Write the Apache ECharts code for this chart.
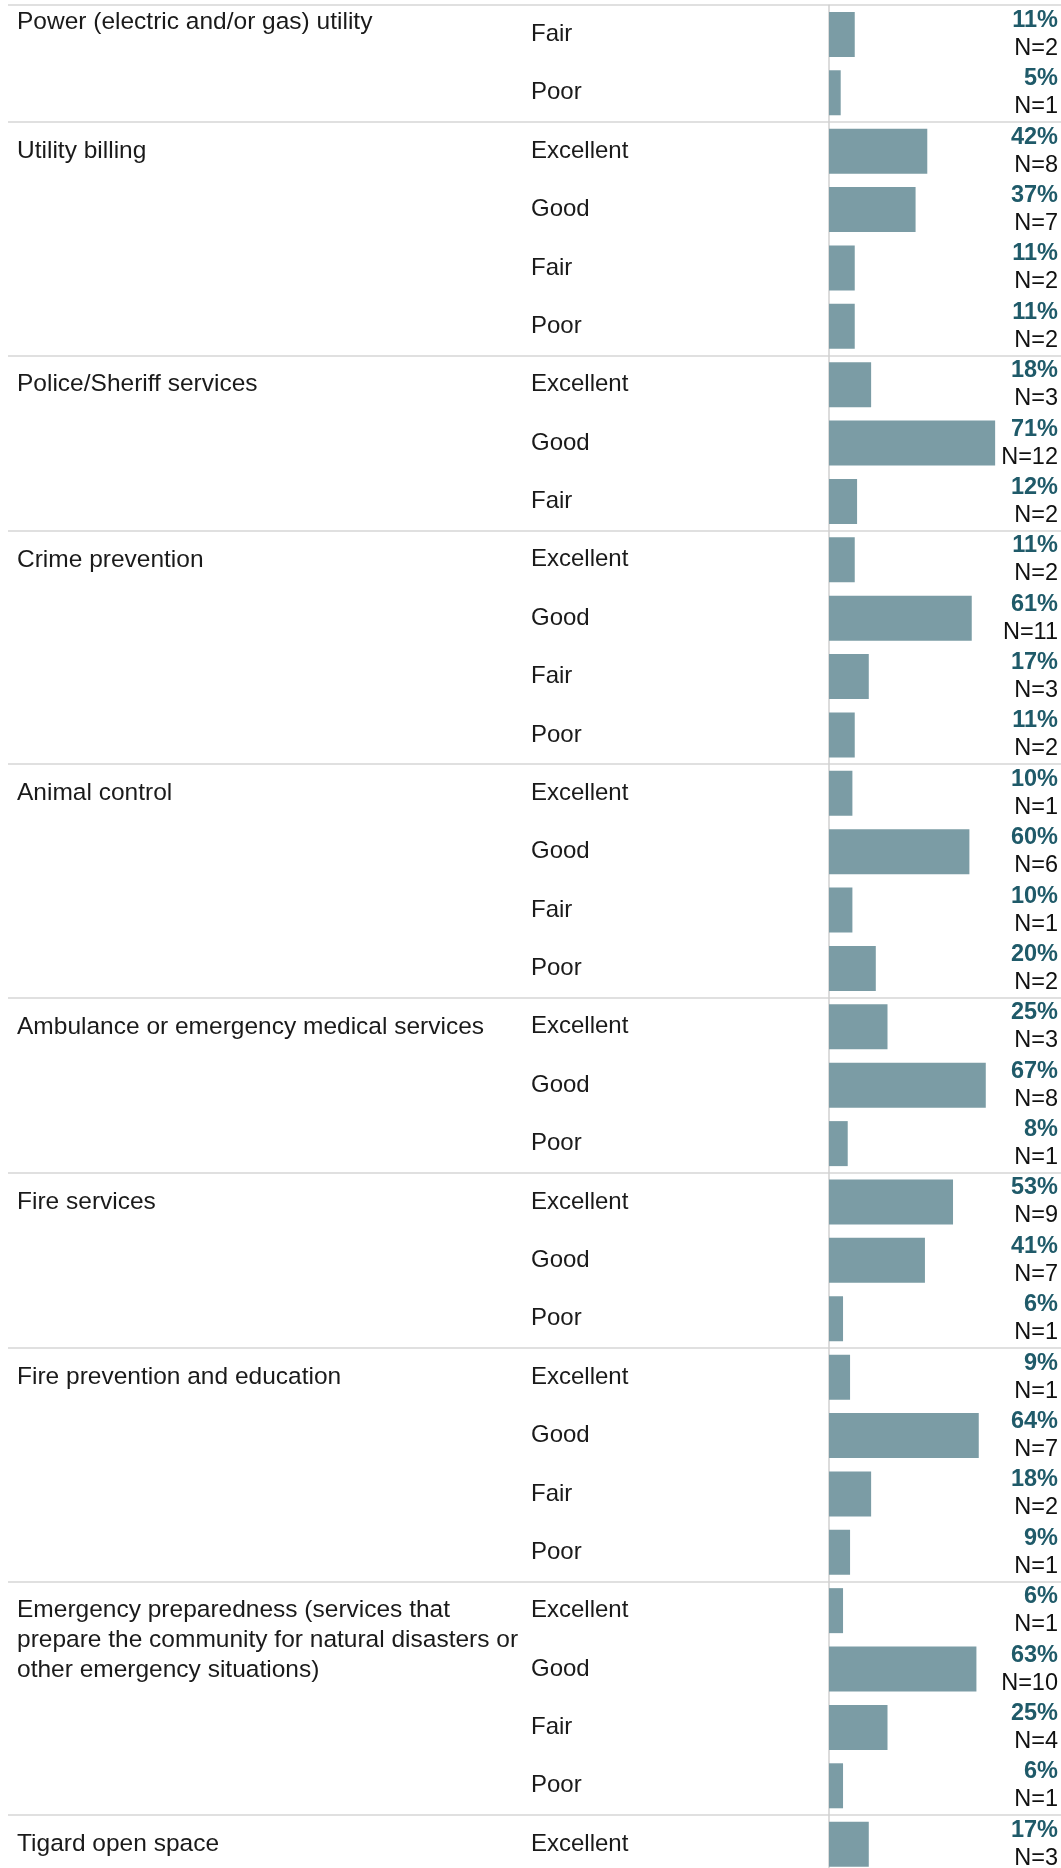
<!DOCTYPE html>
<html>
<head>
<meta charset="utf-8">
<title>Service ratings</title>
<script src="https://cdn.jsdelivr.net/npm/echarts@6/dist/echarts.min.js"></script>
<style>
    html, body { margin: 0; padding: 0; background: #fff; }
    #rating-chart { width: 1061px; height: 1868px; }
</style>
</head>
<body>
<div id="rating-chart"></div>
<script>
// one entry per service, and how many rating rows it has on screen
var services = [
    'Power (electric and/or gas) utility',
    'Utility billing',
    'Police/Sheriff services',
    'Crime prevention',
    'Animal control',
    'Ambulance or emergency medical services',
    'Fire services',
    'Fire prevention and education',
    'Emergency preparedness (services that\nprepare the community for natural disasters or\nother emergency situations)',
    'Tigard open space'
];
var serviceRows = [2, 4, 3, 4, 4, 3, 3, 4, 4, 1];

// one entry per row, top to bottom
var ratings = [
    'Fair', 'Poor',
    'Excellent', 'Good', 'Fair', 'Poor',
    'Excellent', 'Good', 'Fair',
    'Excellent', 'Good', 'Fair', 'Poor',
    'Excellent', 'Good', 'Fair', 'Poor',
    'Excellent', 'Good', 'Poor',
    'Excellent', 'Good', 'Poor',
    'Excellent', 'Good', 'Fair', 'Poor',
    'Excellent', 'Good', 'Fair', 'Poor',
    'Excellent'
];
var percents = [
    11, 5,
    42, 37, 11, 11,
    18, 71, 12,
    11, 61, 17, 11,
    10, 60, 10, 20,
    25, 67, 8,
    53, 41, 6,
    9, 64, 18, 9,
    6, 63, 25, 6,
    17
];
var counts = [
    2, 1,
    8, 7, 2, 2,
    3, 12, 2,
    2, 11, 3, 2,
    1, 6, 1, 2,
    3, 8, 1,
    9, 7, 1,
    1, 7, 2, 1,
    1, 10, 4, 1,
    3
];

var FONT = "'Liberation Sans', Arial, sans-serif";
var ROW_H = 58.38;
var TOP = 5.2;

function buildRows() {
    var rowKeys = [];
    var groupLabel = [];
    var groupStart = [];
    for (var g = 0; g < services.length; g++) {
        for (var k = 0; k < serviceRows[g]; k++) {
            rowKeys.push('r' + rowKeys.length);
            groupStart.push(k === 0);
            groupLabel.push(k === 0 ? services[g] : '');
        }
    }
    return {
        rowKeys: rowKeys,
        groupLabel: groupLabel,
        groupStart: groupStart
    };
}

var rows = buildRows();

// the service name sits on the first row's line; the pinned top one sits higher
function serviceLabel(value, index) {
    var text = rows.groupLabel[index];
    if (!text) {
        return '';
    }
    var lines = text.split('\n');
    if (index === 0) {
        return '{top|' + text + '}\n{top| }';
    }
    if (lines.length > 1) {
        var pad = [];
        for (var i = 1; i < lines.length; i++) {
            pad.push('{wrap| }');
        }
        var body = [];
        for (var j = 0; j < lines.length; j++) {
            body.push('{wrap|' + lines[j] + '}');
        }
        return pad.concat(body).join('\n');
    }
    return '{one|' + text + '}';
}

var option = {
    animation: false,
    grid: [
        {
            left: 8,
            right: 0,
            top: TOP,
            height: ROW_H * ratings.length,
            outerBoundsMode: 'none'
        },
        {
            left: 829,
            width: 234,
            top: TOP,
            height: ROW_H * ratings.length,
            outerBoundsMode: 'none'
        }
    ],
    xAxis: [
        {gridIndex: 0, type: 'value', show: false},
        {gridIndex: 1, type: 'value', min: 0, max: 100, show: false}
    ],
    yAxis: [
        {
            // service names + separators between services
            gridIndex: 0,
            type: 'category',
            position: 'left',
            inverse: true,
            data: rows.rowKeys,
            axisLine: {show: false},
            axisTick: {show: false},
            splitLine: {
                show: true,
                interval: function (index) {
                    return rows.groupStart[index] === true;
                },
                lineStyle: {color: '#d6d6d6', width: 1.5}
            },
            axisLabel: {
                inside: true,
                interval: 0,
                margin: 9,
                align: 'left',
                fontFamily: FONT,
                fontSize: 24.5,
                color: '#1a1a1a',
                formatter: serviceLabel,
                rich: {
                    one: {fontFamily: FONT, fontSize: 24.5, color: '#1a1a1a', align: 'left'},
                    top: {fontFamily: FONT, fontSize: 24.5, color: '#1a1a1a', lineHeight: 24, align: 'left'},
                    wrap: {fontFamily: FONT, fontSize: 24.5, color: '#1a1a1a', lineHeight: 30, align: 'left'}
                }
            }
        },
        {
            // rating names (this one sits on the grid's right edge)
            gridIndex: 0,
            type: 'category',
            position: 'right',
            inverse: true,
            data: rows.rowKeys,
            axisLine: {show: false},
            axisTick: {show: false},
            splitLine: {show: false},
            axisLabel: {
                inside: true,
                interval: 0,
                margin: 530,
                align: 'left',
                fontFamily: FONT,
                fontSize: 24,
                color: '#1a1a1a',
                formatter: function (value, index) {
                    return ratings[index];
                }
            }
        },
        {
            gridIndex: 1,
            type: 'category',
            position: 'left',
            inverse: true,
            data: rows.rowKeys,
            axisLine: {show: true, lineStyle: {color: '#d0d0d0', width: 1.5}},
            axisTick: {show: false},
            axisLabel: {show: false},
            splitLine: {show: false}
        },
        {
            // percent + N, right aligned
            gridIndex: 1,
            type: 'category',
            position: 'right',
            inverse: true,
            data: rows.rowKeys,
            axisLine: {show: false},
            axisTick: {show: false},
            splitLine: {show: false},
            axisLabel: {
                inside: true,
                interval: 0,
                margin: 5,
                align: 'right',
                formatter: function (value, index) {
                    return '{p|' + percents[index] + '%}\n{n|N=' + counts[index] + '}';
                },
                rich: {
                    p: {fontFamily: FONT, fontSize: 23.5, fontWeight: 'bold', color: '#1f5a69', lineHeight: 28, align: 'right'},
                    n: {fontFamily: FONT, fontSize: 23.5, color: '#111111', lineHeight: 28, align: 'right'}
                }
            }
        }
    ],
    series: [
        {
            name: 'Share',
            type: 'bar',
            xAxisIndex: 1,
            yAxisIndex: 2,
            barWidth: 45,
            itemStyle: {color: '#7b9ca5'},
            data: percents
        }
    ]
};

var ratingChart = echarts.init(document.getElementById('rating-chart'));
ratingChart.setOption(option);
</script>
</body>
</html>
